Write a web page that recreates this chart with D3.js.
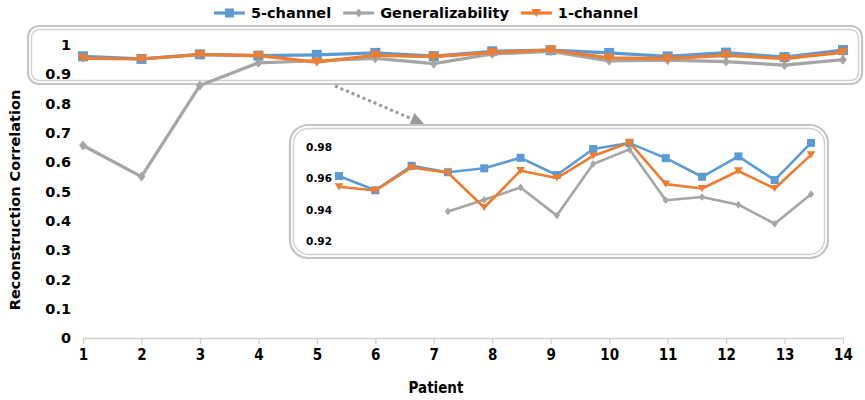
<!DOCTYPE html>
<html>
<head>
<meta charset="utf-8">
<script src="https://cdn.jsdelivr.net/npm/d3@7"></script>
<style>
  html, body { margin: 0; padding: 0; background: #fff; }
  svg { display: block; }
  text { font-family: "DejaVu Sans", sans-serif; font-weight: bold; fill: #000; }
</style>
</head>
<body>
<svg id="chart" width="865" height="400"></svg>
<script>
// ---- Data ----
const patients = [1, 2, 3, 4, 5, 6, 7, 8, 9, 10, 11, 12, 13, 14];
const fiveChannel = [0.9615, 0.9524, 0.968, 0.9639, 0.9664, 0.9731, 0.9621, 0.9787, 0.9825, 0.9729, 0.961, 0.974, 0.9589, 0.9826];
const generalizability = [0.657, 0.551, 0.862, 0.9389, 0.9463, 0.9542, 0.9362, 0.9692, 0.9785, 0.946, 0.9481, 0.9432, 0.931, 0.9499];
const oneChannel = [0.9546, 0.9522, 0.967, 0.9636, 0.9414, 0.9649, 0.9602, 0.9743, 0.9829, 0.9563, 0.9535, 0.9647, 0.9535, 0.975];
const seriesNames = ["5-channel", "Generalizability", "1-channel"];
const mainTicks = [0, 0.1, 0.2, 0.3, 0.4, 0.5, 0.6, 0.7, 0.8, 0.9, 1];
const insetTicks = [0.92, 0.94, 0.96, 0.98];

const colors = ["#5b9bd5", "#a5a5a5", "#ed7d31"];
const symbols = [d3.symbolSquare, d3.symbolDiamond, "tri"];
const seriesVals = [fiveChannel, generalizability, oneChannel];

const svg = d3.select("#chart");

function drawMarker(g, type, x, y, size, color) {
  if (type === "tri") {
    const h = size * 0.9, w = size * 0.55;
    g.append("path")
      .attr("d", `M${x - w},${y - h / 2}L${x + w},${y - h / 2}L${x},${y + h / 2}Z`)
      .attr("fill", color);
  } else if (type === d3.symbolSquare) {
    g.append("rect").attr("x", x - size / 2).attr("y", y - size / 2)
      .attr("width", size).attr("height", size).attr("fill", color);
  } else {
    const s = size * 0.55;
    g.append("path")
      .attr("d", `M${x},${y - s}L${x + s * 0.8},${y}L${x},${y + s}L${x - s * 0.8},${y}Z`)
      .attr("fill", color);
  }
}

function doubleRect(x, y, w, h, r) {
  svg.append("rect").attr("x", x).attr("y", y).attr("width", w).attr("height", h)
    .attr("rx", r).attr("fill", "none").attr("stroke", "#c4c4c4").attr("stroke-width", 2.2);
  svg.append("rect").attr("x", x + 3.5).attr("y", y + 3.5).attr("width", w - 7).attr("height", h - 7)
    .attr("rx", Math.max(r - 3, 2)).attr("fill", "none").attr("stroke", "#d0d0d0").attr("stroke-width", 1.4);
}

// ---- Main chart scales ----
const x = d3.scalePoint().domain(patients).range([83, 843]);
const y = d3.scaleLinear().domain([0, 1]).range([338, 45]);

// X axis
const xAxisG = svg.append("g").attr("transform", "translate(0,338)");
xAxisG.call(d3.axisBottom(x).tickSize(6).tickSizeOuter(0).tickPadding(5));
xAxisG.select(".domain").attr("stroke", "#d0d0d0").attr("stroke-width", 1.3);
xAxisG.selectAll(".tick line").attr("stroke", "#d0d0d0").attr("stroke-width", 1.3);
xAxisG.selectAll(".tick text")
  .style("font-family", "'DejaVu Sans Condensed', 'DejaVu Sans', sans-serif")
  .style("font-weight", "bold").style("font-size", "15px").attr("fill", "#000");

// Y axis labels
const yAxisG = svg.append("g").attr("transform", "translate(71,0)");
yAxisG.call(d3.axisLeft(y).tickValues(mainTicks).tickSize(0).tickPadding(0)
  .tickFormat(d => d3.format("")(+d.toFixed(1))));
yAxisG.select(".domain").remove();
yAxisG.selectAll(".tick text").style("font-size", "14.5px").style("font-weight", "bold")
  .style("font-family", "'DejaVu Sans', sans-serif").attr("fill", "#000");

// Axis titles
svg.append("text").attr("x", 436).attr("y", 393).attr("text-anchor", "middle")
  .style("font-family", "'DejaVu Sans Condensed', 'DejaVu Sans', sans-serif")
  .style("font-size", "15px").text("Patient");
svg.append("text").attr("transform", "translate(20,200) rotate(-90)").attr("text-anchor", "middle")
  .style("font-size", "14.5px").text("Reconstruction Correlation");

// Top highlight rounded rect
doubleRect(28, 26, 834, 58, 11);

// Main lines
const mainG = svg.append("g");
seriesVals.forEach((vals, i) => {
  const line = d3.line().x((d, j) => x(patients[j])).y(d => y(d));
  mainG.append("path").datum(vals).attr("d", line).attr("fill", "none")
    .attr("stroke", colors[i]).attr("stroke-width", 3.2).attr("stroke-linejoin", "round");
  vals.forEach((v, j) => drawMarker(mainG, symbols[i], x(patients[j]), y(v), i === 1 ? 9 : 10, colors[i]));
});

// Dotted arrow
const ax0 = 335, ay0 = 86, ax1 = 424, ay1 = 124;
const ang = Math.atan2(ay1 - ay0, ax1 - ax0);
const headL = 13, headW = 6.5;
const bx = ax1 - headL * Math.cos(ang), by = ay1 - headL * Math.sin(ang);
svg.append("line").attr("x1", ax0).attr("y1", ay0).attr("x2", bx).attr("y2", by)
  .attr("stroke", "#999").attr("stroke-width", 3).attr("stroke-dasharray", "3,3");
svg.append("path")
  .attr("d", `M${ax1},${ay1}L${bx - headW * Math.sin(ang)},${by + headW * Math.cos(ang)}L${bx + headW * Math.sin(ang)},${by - headW * Math.cos(ang)}Z`)
  .attr("fill", "#999");

// ---- Inset ----
svg.append("rect").attr("x", 290).attr("y", 125).attr("width", 538).attr("height", 133)
  .attr("rx", 18).attr("fill", "#fff");
doubleRect(290, 125, 538, 133, 18);

const xi = d3.scalePoint().domain(patients).range([339, 811]);
const yi = d3.scaleLinear().domain([0.92, 0.98]).range([241, 147]);

const insetAxis = svg.append("g").attr("transform", "translate(332,0)");
insetAxis.call(d3.axisLeft(yi).tickValues(insetTicks).tickSize(0).tickPadding(0).tickFormat(d3.format(".2f")));
insetAxis.select(".domain").remove();
insetAxis.selectAll(".tick text").style("font-size", "10.5px").style("font-weight", "bold")
  .style("font-family", "'DejaVu Sans', sans-serif").attr("fill", "#000");

const insetG = svg.append("g");
seriesVals.forEach((vals, i) => {
  const line = d3.line().defined(d => d >= yi.domain()[0]).x((d, j) => xi(patients[j])).y(d => yi(d));
  insetG.append("path").datum(vals).attr("d", line).attr("fill", "none")
    .attr("stroke", colors[i]).attr("stroke-width", 2.6).attr("stroke-linejoin", "round");
  vals.forEach((v, j) => {
    if (v >= yi.domain()[0]) drawMarker(insetG, symbols[i], xi(patients[j]), yi(v), i === 1 ? 7 : 8, colors[i]);
  });
});

// ---- Legend ----
const legend = svg.append("g");
const items = [];
seriesNames.forEach((name, i) => {
  const g = legend.append("g");
  g.append("line").attr("x1", 0).attr("x2", 31).attr("y1", 13).attr("y2", 13)
    .attr("stroke", colors[i]).attr("stroke-width", 3.2);
  drawMarker(g, symbols[i], 15.5, 13, i === 1 ? 8 : 9, colors[i]);
  const t = g.append("text").attr("x", 37).attr("y", 18).style("font-size", "14.5px").text(name);
  items.push({ g, w: 37 + t.node().getComputedTextLength() });
});
const gap = 12;
const total = d3.sum(items, d => d.w) + gap * (items.length - 1);
let cx = 426 - total / 2;
items.forEach(it => { it.g.attr("transform", `translate(${cx},0)`); cx += it.w + gap; });
</script>
</body>
</html>
